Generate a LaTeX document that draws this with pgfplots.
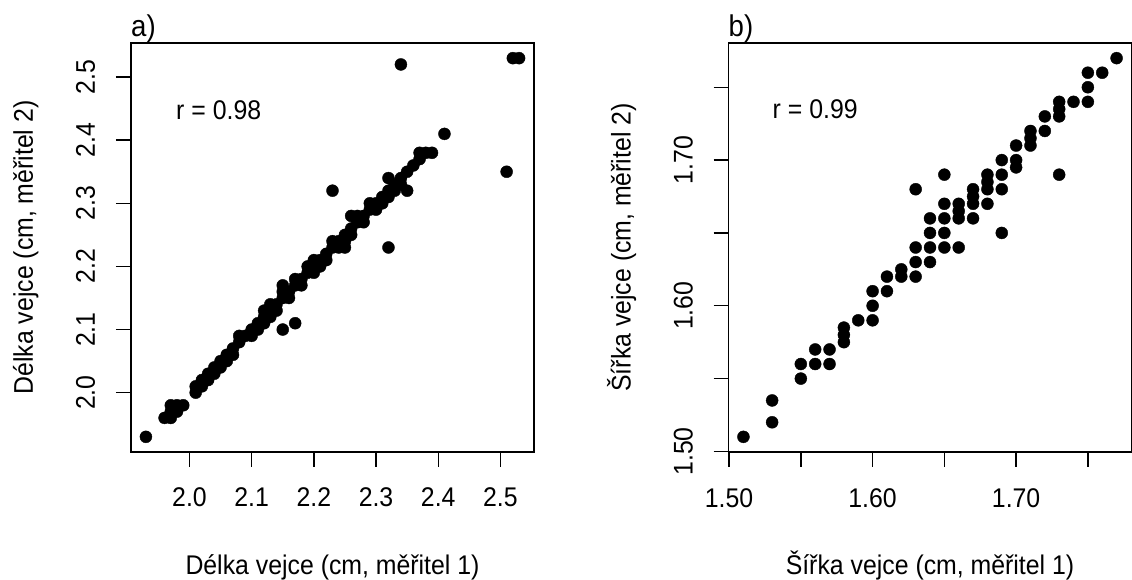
\documentclass[border=0pt]{standalone}
\usepackage{fontspec}
\setmainfont{Liberation Sans}[FakeStretch=0.92]
\usepackage{pgfplots}
\pgfplotsset{compat=1.18}

% shared look of both panels (1 px of the reference = 1 pt here)
\pgfplotsset{
  eggpanel/.style={
    scale only axis, width=403pt, height=409pt,
    anchor=south west,
    axis line style={line width=1.4pt},
    tick align=outside, tick pos=left,
    major tick length=15pt,
    every tick/.style={black, line width=1.4pt},
    /pgf/number format/assume math mode=true,
    xticklabel style={anchor=base, yshift=-40pt},
    yticklabel style={xshift=-21pt, rotate=90, anchor=base},
    every axis x label/.style={at={(axis description cs:0.5,0)}, anchor=base, yshift=-123pt},
    every axis y label/.style={at={(axis description cs:0,0.5)}, xshift=-98pt, rotate=90, anchor=base},
    every axis title/.style={at={(axis description cs:0,1)}, anchor=base west, yshift=6pt,
      inner xsep=0pt, font=\fontsize{30}{36}\selectfont},
    clip=false,
  },
  eggdots/.style={only marks, mark=*, mark size=6pt,
    mark options={fill=black, draw=black, line width=0.4pt}},
}

\begin{document}
\fontsize{27}{32}\selectfont
\begin{tikzpicture}
\useasboundingbox (0pt,0pt) rectangle (1132pt,580pt);

% a) egg length, two measurers
\begin{axis}[eggpanel, at={(131pt,128pt)},
  xmin=1.906, xmax=2.554, ymin=1.906, ymax=2.554,
  xtick={2.0,2.1,2.2,2.3,2.4,2.5},
  xticklabels={2.0,2.1,2.2,2.3,2.4,2.5},
  ytick={2.0,2.1,2.2,2.3,2.4,2.5},
  yticklabels={2.0,2.1,2.2,2.3,2.4,2.5},
  xlabel={Délka vejce (cm, měřitel 1)},
  ylabel={Délka vejce (cm, měřitel 2)},
  title={a)}]
\addplot[eggdots] coordinates {
 (1.93,1.93) (1.96,1.96) (1.97,1.96) (1.97,1.97) (1.98,1.97) (1.98,1.98)
 (1.99,1.98) (1.97,1.98) (2.01,2.00) (2.01,2.01) (2.02,2.02) (2.02,2.01)
 (2.03,2.02) (2.03,2.03) (2.04,2.03) (2.04,2.04) (2.05,2.04) (2.05,2.05)
 (2.06,2.06) (2.06,2.05) (2.07,2.07) (2.07,2.06) (2.08,2.08) (2.08,2.09)
 (2.09,2.09) (2.10,2.10) (2.10,2.09) (2.11,2.11) (2.11,2.10) (2.12,2.12)
 (2.12,2.13) (2.12,2.11) (2.13,2.13) (2.13,2.12) (2.13,2.14) (2.14,2.14)
 (2.14,2.13) (2.15,2.15) (2.15,2.16) (2.15,2.17) (2.16,2.16) (2.16,2.15)
 (2.17,2.17) (2.17,2.18) (2.18,2.18) (2.18,2.17) (2.19,2.19) (2.19,2.20)
 (2.20,2.20) (2.20,2.19) (2.20,2.21) (2.21,2.21) (2.21,2.20) (2.22,2.22)
 (2.22,2.21) (2.23,2.23) (2.23,2.24) (2.24,2.24) (2.24,2.23) (2.25,2.25)
 (2.25,2.23) (2.25,2.24) (2.26,2.26) (2.26,2.28) (2.26,2.25) (2.27,2.27)
 (2.27,2.28) (2.28,2.28) (2.28,2.27) (2.29,2.29) (2.29,2.30) (2.30,2.30)
 (2.30,2.29) (2.31,2.31) (2.31,2.30) (2.32,2.32) (2.32,2.31) (2.33,2.33)
 (2.33,2.32) (2.34,2.34) (2.34,2.33) (2.35,2.35) (2.36,2.36) (2.37,2.37)
 (2.34,2.52) (2.52,2.53) (2.53,2.53) (2.41,2.41) (2.51,2.35)
 (2.37,2.38) (2.38,2.38) (2.39,2.38) (2.23,2.32) (2.35,2.32)
 (2.32,2.34) (2.32,2.23) (2.15,2.10) (2.17,2.11)
};
\node at (axis cs:2.047,2.448) {r = 0.98};
\end{axis}

% b) egg width, two measurers
\begin{axis}[eggpanel, at={(728.5pt,128pt)},
  xmin=1.4996, xmax=1.7804, ymin=1.4996, ymax=1.7804,
  xtick={1.50,1.55,1.60,1.65,1.70,1.75},
  xticklabels={1.50,,1.60,,1.70,},
  ytick={1.50,1.55,1.60,1.65,1.70,1.75},
  yticklabels={1.50,,1.60,,1.70,},
  xlabel={Šířka vejce (cm, měřitel 1)},
  ylabel={Šířka vejce (cm, měřitel 2)},
  title={b)}]
\addplot[eggdots] coordinates {
 (1.51,1.51) (1.53,1.52) (1.53,1.535) (1.55,1.56) (1.55,1.55)
 (1.56,1.57) (1.56,1.56) (1.57,1.57) (1.57,1.56)
 (1.58,1.585) (1.58,1.58) (1.58,1.575) (1.59,1.59)
 (1.60,1.61) (1.60,1.60) (1.60,1.59) (1.61,1.62) (1.61,1.61)
 (1.62,1.625) (1.62,1.62) (1.63,1.68) (1.63,1.64) (1.63,1.63) (1.63,1.62)
 (1.64,1.66) (1.64,1.65) (1.64,1.64) (1.64,1.63)
 (1.65,1.69) (1.65,1.67) (1.65,1.66) (1.65,1.65) (1.65,1.64)
 (1.66,1.67) (1.66,1.665) (1.66,1.66) (1.66,1.64)
 (1.67,1.68) (1.67,1.675) (1.67,1.67) (1.67,1.66)
 (1.68,1.69) (1.68,1.685) (1.68,1.68) (1.68,1.67)
 (1.69,1.70) (1.69,1.69) (1.69,1.68) (1.69,1.65)
 (1.70,1.71) (1.70,1.70) (1.70,1.695)
 (1.71,1.72) (1.71,1.715) (1.71,1.71) (1.72,1.73) (1.72,1.72)
 (1.73,1.74) (1.73,1.735) (1.73,1.73) (1.73,1.69) (1.74,1.74)
 (1.75,1.76) (1.75,1.75) (1.75,1.74) (1.76,1.76) (1.77,1.77)
};
\node at (axis cs:1.56,1.735) {r = 0.99};
\end{axis}
\end{tikzpicture}
\end{document}
